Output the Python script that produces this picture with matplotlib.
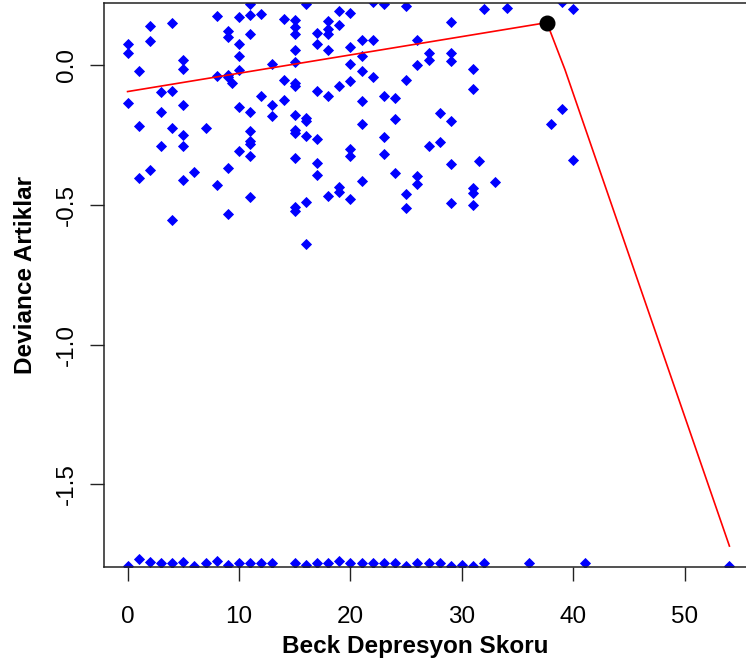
import matplotlib.pyplot as plt

plt.rcParams['font.family'] = ['Liberation Sans', 'DejaVu Sans']

# Beck depression score and deviance residual for each subject (upper cloud)
beck_score = [
    0, 0, 0,
    1, 1, 1,
    2, 2, 2,
    3, 3, 3,
    4, 4, 4, 4,
    5, 5, 5, 5, 5, 5,
    6, 7,
    8, 8, 8,
    9, 9, 9, 9, 9, 9, 9.4,
    10, 10, 10, 10, 10, 10,
    11, 11, 11, 11, 11, 11, 11, 11, 11,
    12, 12,
    13, 13, 13,
    14, 14, 14,
    15, 15, 15, 15, 15, 15, 15, 15, 15, 15, 15, 15, 15,
    16, 16, 16, 16, 16, 16,
    17, 17, 17, 17, 17, 17,
    18, 18, 18, 18, 18, 18,
    19, 19, 19, 19, 19,
    20, 20, 20, 20, 20, 20, 20,
    21, 21, 21, 21, 21, 21,
    22, 22, 22,
    23, 23, 23, 23,
    24, 24, 24,
    25, 25, 25, 25,
    26, 26, 26, 26,
    27, 27, 27,
    28, 28,
    29, 29, 29, 29, 29, 29,
    31, 31, 31, 31, 31, 31.5,
    32, 33, 34, 38, 39, 39, 40, 40,
]
dev_resid = [
    0.077, 0.044, -0.135,
    -0.022, -0.219, -0.404,
    0.140, 0.086, -0.376,
    -0.097, -0.167, -0.290,
    0.152, -0.092, -0.224, -0.553,
    0.020, -0.012, -0.141, -0.248, -0.290, -0.410,
    -0.381, -0.224,
    0.178, -0.037, -0.429,
    0.122, 0.100, -0.033, -0.041, -0.368, -0.532, -0.063,
    0.173, 0.077, 0.032, -0.015, -0.149, -0.308,
    0.218, 0.182, 0.114, -0.167, -0.234, -0.272, -0.281, -0.323, -0.473,
    0.184, -0.109,
    0.006, -0.141, -0.183,
    0.167, -0.054, -0.123,
    0.164, 0.136, 0.113, 0.054, 0.011, -0.064, -0.075, -0.177, -0.232,
    -0.243, -0.332, -0.506, -0.521,
    0.221, -0.189, -0.200, -0.252, -0.490, -0.640,
    0.116, 0.077, -0.091, -0.263, -0.350, -0.393,
    0.158, 0.130, 0.113, 0.054, -0.109, -0.467,
    0.194, 0.146, -0.075, -0.435, -0.453,
    0.188, 0.065, 0.003, -0.057, -0.300, -0.326, -0.478,
    0.092, 0.035, -0.022, -0.129, -0.210, -0.413,
    0.226, 0.092, -0.043,
    0.218, -0.109, -0.258, -0.316,
    -0.117, -0.192, -0.386,
    0.211, -0.054, -0.461, -0.511,
    0.090, 0.000, -0.395, -0.425,
    0.044, 0.020, -0.290,
    -0.171, -0.275,
    0.156, 0.044, 0.014, -0.198, -0.353, -0.493,
    -0.012, -0.085, -0.438, -0.456, -0.499, -0.344,
    0.200, -0.419, 0.206, -0.210, -0.155, 0.226, 0.200, -0.338,
]

# subjects whose residual sits at the lower floor
floor_score = [0, 1, 2, 3, 4, 5, 6, 7, 8, 9, 10, 11, 12, 13, 15, 16, 17, 18,
               19, 20, 21, 22, 23, 24, 25, 26, 27, 28, 29, 30, 31, 32, 36, 41, 54]
floor_resid = [-1.795, -1.769, -1.778, -1.784, -1.784, -1.778, -1.792, -1.784,
               -1.775, -1.790, -1.784, -1.784, -1.784, -1.784, -1.784, -1.790,
               -1.784, -1.784, -1.775, -1.784, -1.784, -1.784, -1.784, -1.784,
               -1.792, -1.784, -1.784, -1.784, -1.792, -1.790, -1.792, -1.784,
               -1.784, -1.784, -1.792]

# smoothed trend of the residuals and its peak
trend_x = [0, 37.62, 39.24, 54.0]
trend_y = [-0.094, 0.153, -0.015, -1.722]
peak_idx = 1

fig = plt.figure(figsize=(7.46, 6.66), dpi=100)
ax = fig.add_axes([103.5 / 746, 99 / 666, 650 / 746, 564.4 / 666])

ax.plot(beck_score, dev_resid, linestyle='none', marker='D', markersize=4.8,
        color='#0000ff', markeredgewidth=0.6)
ax.plot(floor_score, floor_resid, linestyle='none', marker='D', markersize=4.8,
        color='#0000ff', markeredgewidth=0.6)
ax.plot(trend_x, trend_y, color='#ff0000', linewidth=1.2)
ax.plot(trend_x[peak_idx], trend_y[peak_idx], marker='o', markersize=10.5,
        color='black')

ax.set_xlim(-2.16, 56.16)
ax.set_ylim(-1.797, 0.2247)
ax.set_xticks([0, 10, 20, 30, 40, 50])
ax.set_yticks([0.0, -0.5, -1.0, -1.5])
ax.set_yticklabels(['0.0', '-0.5', '-1.0', '-1.5'], rotation=90, va='center')

for s in ax.spines.values():
    s.set_linewidth(1.1)
    s.set_color('#222222')

ax.tick_params(axis='both', direction='out', length=10.4, width=1.0,
               labelsize=17.5, color='#222222')
ax.tick_params(axis='x', pad=17.5)
ax.tick_params(axis='y', pad=8)

ax.set_xlabel('Beck Depresyon Skoru', fontsize=17.5, fontweight='bold')
ax.set_ylabel('Deviance Artiklar', fontsize=17.5, fontweight='bold')
ax.xaxis.set_label_coords(0.479, -0.121)
ax.yaxis.set_label_coords(-0.103, 0.517)

fig.savefig('out.png', dpi=100)
